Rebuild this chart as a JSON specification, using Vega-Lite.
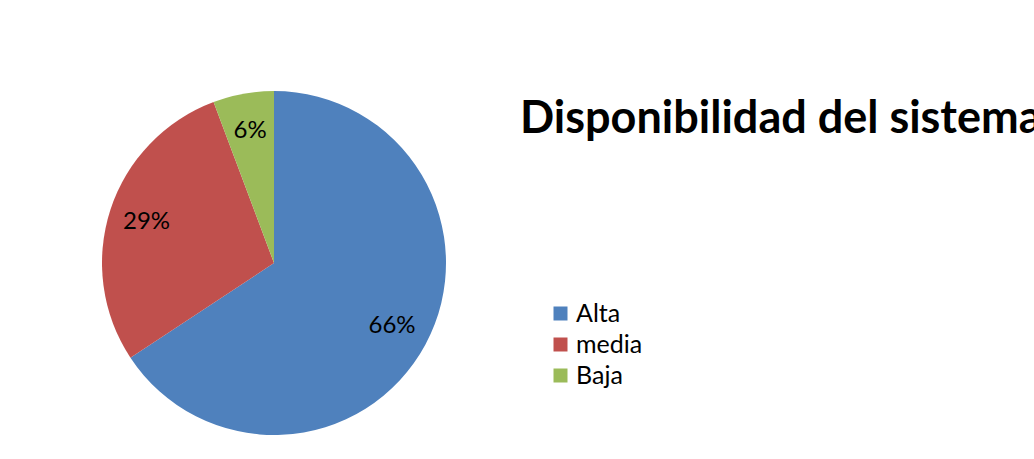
{
  "$schema": "https://vega.github.io/schema/vega-lite/v6.json",
  "autosize": "none",
  "width": 344,
  "height": 344,
  "padding": {"left": 102, "top": 91, "right": 588, "bottom": 24},
  "background": "white",
  "title": {
    "text": "Disponibilidad del sistema",
    "anchor": "start",
    "frame": "group",
    "orient": "top",
    "offset": 0,
    "baseline": "alphabetic",
    "dx": 418,
    "dy": 87,
    "font": "Lato",
    "fontSize": 45,
    "fontWeight": "bold",
    "color": "black"
  },
  "data": {
    "values": [
      {"nivel": "Alta", "n": 23, "etiqueta": "66%"},
      {"nivel": "media", "n": 10, "etiqueta": "29%"},
      {"nivel": "Baja", "n": 2, "etiqueta": "6%"}
    ]
  },
  "encoding": {
    "theta": {"field": "n", "type": "quantitative", "stack": true},
    "order": {"field": "n", "type": "quantitative", "sort": "descending"},
    "color": {
      "field": "nivel",
      "type": "nominal",
      "sort": ["Alta", "media", "Baja"],
      "scale": {"domain": ["Alta", "media", "Baja"], "range": ["#4F81BD", "#C0504D", "#9BBB59"]},
      "legend": {
        "title": null,
        "orient": "none",
        "legendX": 446,
        "legendY": 210,
        "padding": 0,
        "symbolType": "square",
        "symbolSize": 196,
        "symbolStrokeWidth": 0,
        "labelFont": "Lato",
        "labelFontSize": 25,
        "labelColor": "black",
        "labelOffset": 3,
        "rowPadding": 5
      }
    }
  },
  "layer": [
    {"mark": {"type": "arc", "outerRadius": 172, "stroke": null}},
    {
      "mark": {"type": "text", "radius": 134, "font": "Lato", "fontSize": 24, "color": "black", "baseline": "middle", "align": "center"},
      "encoding": {"text": {"field": "etiqueta"}, "color": {"value": "black"}}
    }
  ],
  "config": {"view": {"stroke": null}}
}
